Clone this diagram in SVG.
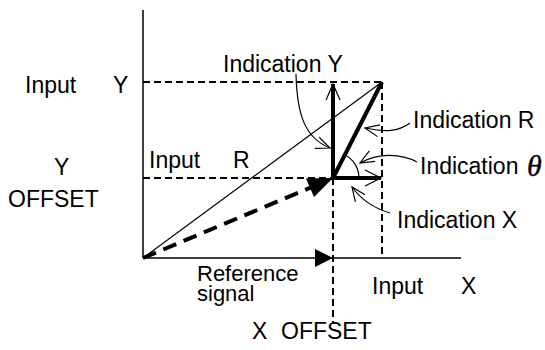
<svg xmlns="http://www.w3.org/2000/svg" width="545" height="350" viewBox="0 0 545 350">
<style>
.t{font-family:"Liberation Sans",Arial,sans-serif;font-size:23px;fill:#000}
.t2{font-family:"Liberation Sans",Arial,sans-serif;font-size:22px;fill:#000}
.th{font-family:"Liberation Serif","Times New Roman",serif;font-style:italic;font-size:30px;fill:#000;stroke:#000;stroke-width:0.4}
.ax{stroke:#000;stroke-width:1.5;fill:none}
.dash{stroke:#000;stroke-width:2;stroke-dasharray:7,4;fill:none}
.thin{stroke:#000;stroke-width:1.2;fill:none}
.thick{stroke:#000;stroke-width:4;fill:none}
.lead{stroke:#000;stroke-width:1.2;fill:none}
</style>
<defs>
<marker id="open" viewBox="0 0 16 14" refX="15" refY="7" markerWidth="16" markerHeight="14" markerUnits="userSpaceOnUse" orient="auto">
<path d="M1,1 L15,7 L1,13" fill="none" stroke="#000" stroke-width="1.2"/>
</marker>
</defs>
<g id="axes">
<line class="ax" x1="143" y1="10" x2="143" y2="258"/>
<line class="ax" x1="143" y1="258" x2="461" y2="258"/>
</g>
<g id="guides">
<line class="dash" x1="143" y1="82" x2="382" y2="82"/>
<line class="dash" x1="143" y1="178" x2="333" y2="178"/>
<line class="dash" x1="382" y1="82" x2="382" y2="258"/>
<line class="dash" x1="333" y1="178" x2="333" y2="322"/>
</g>
<g id="connectors">
<line class="thin" x1="143" y1="258" x2="382" y2="82"/>
<line stroke="#000" stroke-width="4" stroke-dasharray="14,8" x1="143" y1="258" x2="312" y2="187"/>
<polygon points="333,178 306,178.5 314,197" fill="#000"/>
<polygon points="333,258 315,249 315,267" fill="#000"/>
<line class="thick" x1="333" y1="178" x2="333" y2="84"/>
<path class="thin" d="M326,100 L333,84 L340,100"/>
<line class="thick" x1="333" y1="178" x2="382" y2="82"/>
<line class="thick" x1="331" y1="178" x2="381" y2="178"/>
<path class="thin" d="M365,170 L381,178 L365,186"/>
<path class="thin" d="M344.8,154.8 A26,26 0 0 1 359,178"/>
<path class="lead" marker-end="url(#open)" d="M296,74 C297,115 305,138 330,148"/>
<path class="lead" marker-end="url(#open)" d="M410,123 C398,132 385,132 365,128"/>
<path class="lead" marker-end="url(#open)" d="M417,162 C400,153 378,153 360,163"/>
<path class="lead" marker-end="url(#open)" d="M390,213 C373,208 360,198 352,187"/>
</g>
<g id="input-y"><text class="t" x="25" y="93">Input</text><text class="t" x="113" y="93">Y</text></g>
<g id="y-offset"><text class="t" x="54" y="175">Y</text><text class="t" x="8" y="207">OFFSET</text></g>
<g id="input-r"><text class="t" x="149" y="168">Input</text><text class="t" x="233" y="168">R</text></g>
<g id="indication-y"><text class="t" x="223" y="72">Indication Y</text></g>
<g id="indication-r"><text class="t" x="413" y="128">Indication R</text></g>
<g id="indication-theta"><text class="t" x="420" y="174">Indication</text><text class="th" x="527" y="176">θ</text></g>
<g id="indication-x"><text class="t" x="397" y="228">Indication X</text></g>
<g id="reference-signal"><text class="t2" x="197" y="281">Reference</text><text class="t2" x="197" y="301">signal</text></g>
<g id="input-x"><text class="t" x="372" y="294">Input</text><text class="t" x="461" y="294">X</text></g>
<g id="x-offset"><text class="t" x="252" y="339">X</text><text class="t" x="281" y="339">OFFSET</text></g>
</svg>
